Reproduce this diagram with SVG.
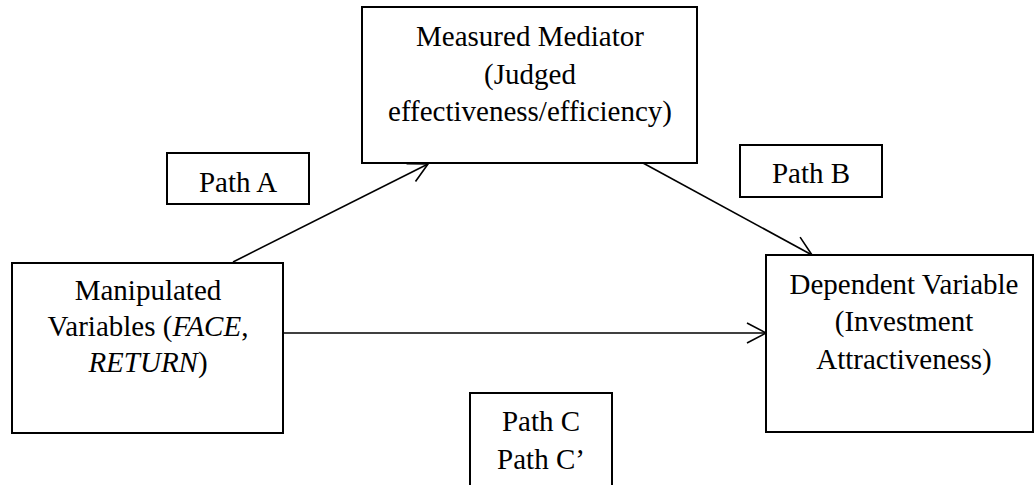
<svg xmlns="http://www.w3.org/2000/svg" width="1034" height="485" viewBox="0 0 1034 485">
<style>
.box{fill:#fff;stroke:#000;stroke-width:2}
.t{font-family:"Liberation Serif","Times New Roman",serif;font-size:29px;fill:#000;text-anchor:middle}
.c{stroke:#000;stroke-width:1.6;fill:none}
</style>
<defs>
<marker id="ah" markerUnits="userSpaceOnUse" markerWidth="22" markerHeight="22" refX="20" refY="11" orient="auto" viewBox="0 0 22 22">
<path d="M1,1 L20,11 L1,21" fill="none" stroke="#000" stroke-width="1.6"/>
</marker>
</defs>
<rect width="1034" height="485" fill="#fff"/>
<g id="connectors">
<line class="c" x1="233" y1="262" x2="428" y2="164" marker-end="url(#ah)"/>
<line class="c" x1="643" y1="163" x2="812" y2="255" marker-end="url(#ah)"/>
<line class="c" x1="283" y1="333" x2="766" y2="333" marker-end="url(#ah)"/>
</g>
<g id="mediator">
<rect class="box" x="362" y="7" width="335" height="156"/>
<text class="t" x="530" y="46">Measured Mediator</text>
<text class="t" x="530" y="84">(Judged</text>
<text class="t" x="530" y="121">effectiveness/efficiency)</text>
</g>
<g id="manipulated">
<rect class="box" x="12" y="263" width="271" height="170"/>
<text class="t" x="148" y="300">Manipulated</text>
<text class="t" x="148" y="336">Variables (<tspan font-style="italic">FACE</tspan>,</text>
<text class="t" x="148" y="372"><tspan font-style="italic">RETURN</tspan>)</text>
</g>
<g id="dependent">
<rect class="box" x="766" y="255" width="267" height="177"/>
<text class="t" x="904" y="294">Dependent Variable</text>
<text class="t" x="904" y="331">(Investment</text>
<text class="t" x="904" y="369">Attractiveness)</text>
</g>
<g id="pathA">
<rect class="box" x="167" y="153" width="142" height="51"/>
<text class="t" x="238" y="192">Path A</text>
</g>
<g id="pathB">
<rect class="box" x="740" y="145" width="142" height="52"/>
<text class="t" x="811" y="183">Path B</text>
</g>
<g id="pathC">
<rect class="box" x="470" y="393" width="142" height="100"/>
<text class="t" x="541" y="431">Path C</text>
<text class="t" x="541" y="469">Path C’</text>
</g>
</svg>
